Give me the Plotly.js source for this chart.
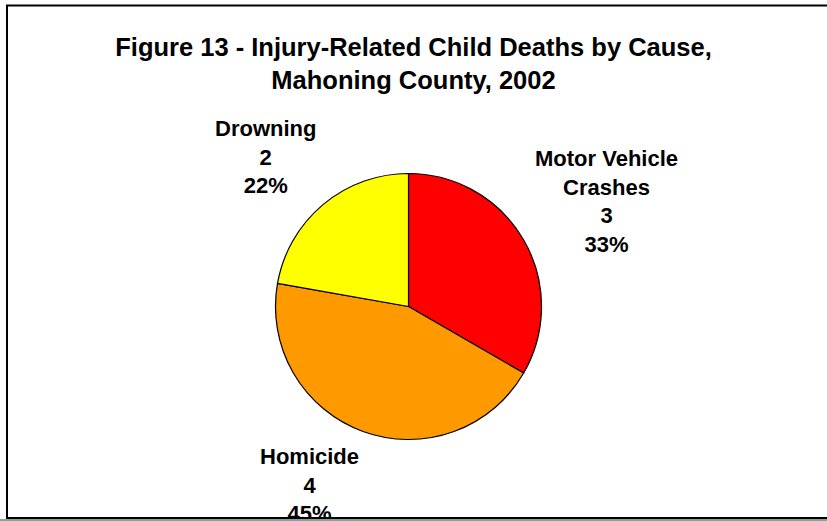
<!DOCTYPE html>
<html>
<head>
<meta charset="utf-8">
<script src="https://cdn.plot.ly/plotly-3.0.1.min.js"></script>
<style>
  html, body { margin: 0; padding: 0; background: #9a9a9a; }
  #chart { width: 827px; height: 519px; background: #ffffff; }
</style>
</head>
<body>
<div id="chart"></div>
<script>
// ---- data ----
var causes = ['Motor Vehicle Crashes', 'Homicide', 'Drowning'];
var deaths = [3, 4, 2];
var percentLabels = ['33%', '45%', '22%'];
var sliceColors = ['#FF0000', '#FF9900', '#FFFF00'];
var titleText = 'Figure 13 - Injury-Related Child Deaths by Cause,<br>Mahoning County, 2002';

// ---- layout helpers ----
var W = 827, H = 519;
function px(x) { return x / W; }
function py(y) { return 1 - y / H; }

// label display text (line-break style only)
var displayNames = causes.map(function (c) { return c.replace('Motor Vehicle ', 'Motor Vehicle<br>'); });
var labelPos = [ {x: 606, y: 201.5}, {x: 309, y: 484.5}, {x: 265, y: 157} ];

var annotations = causes.map(function (c, i) {
  return {
    xref: 'paper', yref: 'paper',
    x: px(labelPos[i].x), y: py(labelPos[i].y),
    xanchor: 'center', yanchor: 'middle', align: 'center',
    showarrow: false,
    text: displayNames[i] + '<br>' + deaths[i] + '<br>' + percentLabels[i],
    font: {family: '"Liberation Sans", Arial, sans-serif', size: 22, color: '#000000', weight: 'bold'}
  };
});

var cx = 408.5, cy = 306.5, r = 133;

var trace = {
  type: 'pie',
  labels: causes,
  values: deaths,
  sort: false,
  direction: 'clockwise',
  rotation: 0,
  textinfo: 'none',
  hoverinfo: 'label+value+percent',
  marker: { colors: sliceColors, line: { color: '#000000', width: 1.2 } },
  domain: { x: [px(cx - r), px(cx + r)], y: [py(cy + r), py(cy - r)] },
  showlegend: false
};

var layout = {
  width: W, height: H,
  margin: {l: 0, r: 0, t: 0, b: 0},
  paper_bgcolor: '#ffffff',
  plot_bgcolor: '#ffffff',
  showlegend: false,
  title: {
    text: titleText,
    x: 0.5, xanchor: 'center', xref: 'paper',
    y: py(56), yanchor: 'top', yref: 'container',
    font: {family: '"Liberation Sans", Arial, sans-serif', size: 25.5, color: '#000000', weight: 'bold'}
  },
  annotations: annotations,
  shapes: [
    { type: 'rect', xref: 'paper', yref: 'paper', layer: 'above',
      x0: px(7), x1: px(840), y0: py(518), y1: py(5.5),
      line: {color: '#000000', width: 2}, fillcolor: 'rgba(0,0,0,0)' }
  ]
};

Plotly.newPlot('chart', [trace], layout, {displayModeBar: false, staticPlot: true});
</script>
</body>
</html>
